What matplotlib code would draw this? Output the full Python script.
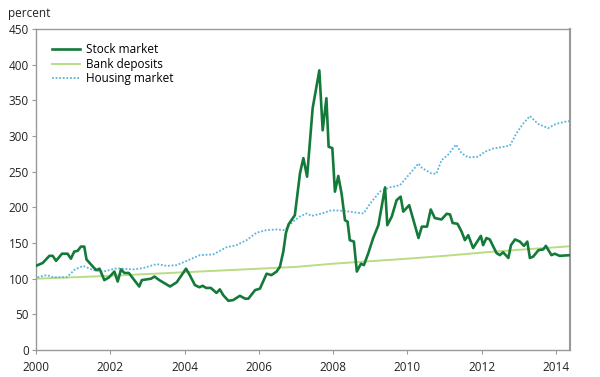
import matplotlib
matplotlib.use('Agg')
from matplotlib import pyplot as plt

# Stock market index (percent, 2000 = ~118), decimal years
STOCK_YEARS = [2000.0, 2000.18, 2000.36, 2000.45, 2000.54, 2000.7, 2000.85, 2000.94,
               2001.03, 2001.12, 2001.21, 2001.3, 2001.36, 2001.53, 2001.62, 2001.71,
               2001.84, 2001.97, 2002.11, 2002.2, 2002.29, 2002.38, 2002.5, 2002.78,
               2002.85, 2003.1, 2003.19, 2003.32, 2003.45, 2003.61, 2003.79, 2004.04,
               2004.13, 2004.28, 2004.4, 2004.49, 2004.58, 2004.71, 2004.86, 2004.95,
               2005.04, 2005.18, 2005.31, 2005.49, 2005.63, 2005.72, 2005.9, 2006.03,
               2006.21, 2006.34, 2006.48, 2006.57, 2006.66, 2006.73, 2006.8, 2006.97,
               2007.11, 2007.2, 2007.3, 2007.45, 2007.63, 2007.72, 2007.82, 2007.88,
               2007.98, 2008.05, 2008.14, 2008.23, 2008.32, 2008.39, 2008.45, 2008.56,
               2008.64, 2008.75, 2008.83, 2008.95, 2009.08, 2009.22, 2009.4, 2009.46,
               2009.58, 2009.71, 2009.82, 2009.89, 2010.05, 2010.3, 2010.39, 2010.53,
               2010.63, 2010.74, 2010.92, 2011.06, 2011.15, 2011.22, 2011.35, 2011.46,
               2011.55, 2011.64, 2011.77, 2011.98, 2012.04, 2012.13, 2012.22, 2012.4,
               2012.49, 2012.58, 2012.72, 2012.79, 2012.9, 2013.03, 2013.14, 2013.23,
               2013.3, 2013.39, 2013.53, 2013.66, 2013.73, 2013.88, 2013.97, 2014.1,
               2014.38]
STOCK_VALUES = [118, 122, 132, 132, 125, 135, 135, 128,
                138, 139, 145, 145, 127, 117, 112, 114,
                98, 102, 110, 96, 113, 108, 108, 89,
                98, 100, 103, 98, 94, 89, 95, 114,
                106, 91, 88, 90, 87, 87, 80, 85,
                77, 69, 70, 76, 72, 72, 84, 86,
                107, 105, 110, 117, 138, 164, 176, 189,
                248, 269, 243, 339, 392, 308, 353, 285,
                283, 222, 244, 219, 182, 180, 154, 152,
                110, 121, 119, 136, 157, 175, 228, 175,
                187, 210, 215, 194, 203, 157, 173, 173,
                197, 185, 183, 191, 190, 178, 177, 166,
                154, 161, 143, 160, 147, 157, 155, 136,
                133, 137, 129, 147, 155, 152, 146, 152,
                129, 131, 140, 141, 146, 133, 135, 132,
                133]

# Bank deposits (percent)
BANK_YEARS = [2000, 2001, 2002, 2003, 2004, 2005, 2006, 2007, 2008, 2009,
              2010, 2011, 2012, 2013, 2014, 2014.38]
BANK_VALUES = [100, 102, 104, 106.5, 109, 111.5, 114, 116.5, 121, 124.5,
               128, 132, 136.5, 140.5, 144, 145.5]

# Housing market (percent)
HOUSE_YEARS = [2000.04, 2000.29, 2000.47, 2000.83, 2001.05, 2001.27, 2001.54, 2001.81,
               2002.17, 2002.63, 2002.89, 2003.25, 2003.52, 2003.79, 2004.06, 2004.41,
               2004.77, 2005.13, 2005.4, 2005.67, 2005.94, 2006.2, 2006.47, 2006.7,
               2006.92, 2007.1, 2007.29, 2007.42, 2007.7, 2007.96, 2008.3, 2008.57,
               2008.82, 2009.0, 2009.26, 2009.53, 2009.8, 2010.03, 2010.3, 2010.4,
               2010.65, 2010.78, 2010.92, 2011.1, 2011.31, 2011.46, 2011.64, 2011.91,
               2012.09, 2012.31, 2012.49, 2012.76, 2012.94, 2013.12, 2013.3, 2013.52,
               2013.79, 2014.0, 2014.24, 2014.38]
HOUSE_VALUES = [102, 105, 102, 102, 113, 118, 112, 110,
                114.5, 113, 115, 120.5, 118, 119, 125, 133,
                134, 144, 147, 154, 164.5, 168, 169, 168,
                180, 187, 191.5, 188, 191.5, 196, 195, 193,
                191.5, 205.5, 222, 228, 231, 245, 261.5, 255,
                247.5, 247, 266, 274, 288, 276, 270, 271,
                278, 282.5, 284, 286.5, 304, 317.5, 328, 317,
                311, 317, 320, 321]

X_TICKS = [2000, 2002, 2004, 2006, 2008, 2010, 2012, 2014]
Y_TICKS = [0, 50, 100, 150, 200, 250, 300, 350, 400, 450]

plt.rcParams['font.family'] = ['Open Sans', 'DejaVu Sans']

fig = plt.figure(figsize=(6.0, 3.77), dpi=100)
ax = fig.add_axes([0.06, 0.0716, 0.89, 0.8514])

ax.plot(BANK_YEARS, BANK_VALUES, color='#b9dc86', linewidth=1.4,
        label='Bank deposits', zorder=2)
ax.plot(HOUSE_YEARS, HOUSE_VALUES, color='#5ab4dc', linewidth=1.3,
        linestyle=(0, (1, 1)), label='Housing market', zorder=2)
ax.plot(STOCK_YEARS, STOCK_VALUES, color='#137a3a', linewidth=1.9,
        label='Stock market', zorder=3)

ax.set_xlim(2000, 2014.38)
ax.set_ylim(0, 450)
ax.set_xticks(X_TICKS)
ax.set_yticks(Y_TICKS)
ax.tick_params(labelsize=8.5, length=3, width=0.8, color='#999999',
               labelcolor='#222222', pad=2)
ax.tick_params(axis='x', pad=5)
for side in ['top', 'right', 'left', 'bottom']:
    ax.spines[side].set_color('#999999')
    ax.spines[side].set_linewidth(1.0)
ax.spines['right'].set_linewidth(1.5)

handles, labels = ax.get_legend_handles_labels()
order = [2, 0, 1]
ax.legend([handles[i] for i in order], [labels[i] for i in order],
          loc='upper left', bbox_to_anchor=(0.01, 0.99), frameon=False,
          fontsize=8.5, handlelength=2.4, labelspacing=0.15, handletextpad=0.5)

fig.text(0.013, 0.955, 'percent', fontsize=8.5, color='#222222')

fig.savefig('out.png', dpi=100)
